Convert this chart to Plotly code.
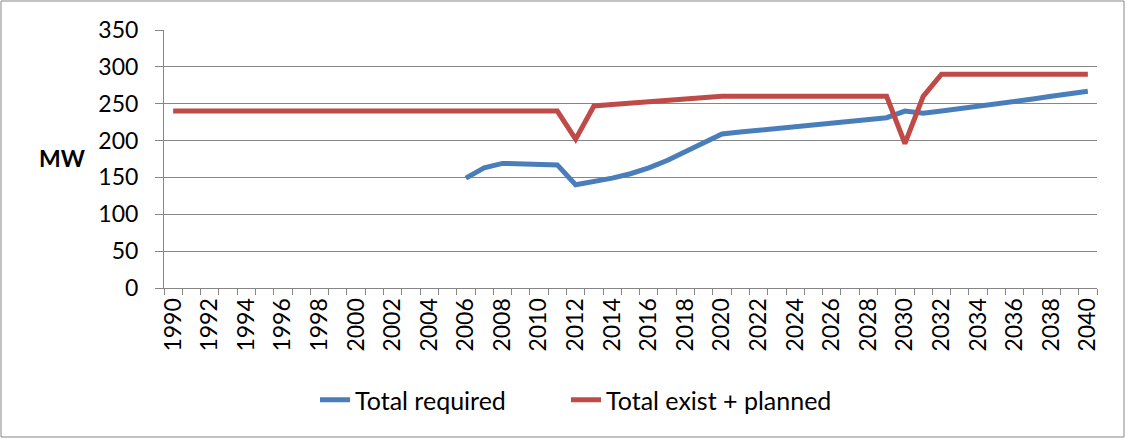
import plotly.graph_objects as go

years = list(range(1990, 2041))
total_required = [None] * 16 + [
    149, 163, 169, 168, 167.5, 167, 140, 144, 149, 155,
    163, 173, 185, 197, 209, 211.5, 214, 216.5, 219, 221.5,
    224, 226, 228.5, 231, 240, 237, 240, 243, 246.5, 250,
    253, 256.5, 260, 263.5, 267]
total_exist_planned = [240] * 22 + [
    202, 247, 249, 251, 253, 255, 257, 259,
    260, 260, 260, 260, 260, 260, 260, 260, 260, 260,
    196, 260,
    290, 290, 290, 290, 290, 290, 290, 290, 290]
tick_years = list(range(1990, 2041, 2))
y_ticks = list(range(0, 351, 50))

W, H = 1126, 439
L, R, T, B = 164, 1097, 30, 288
pw, ph = R - L, B - T

def px(x):
    return (x - L) / pw

def py(y):
    return (B - y) / ph

font_family = "Lato, 'Open Sans', sans-serif"
grey = "#868686"

fig = go.Figure()
fig.add_trace(go.Scatter(x=years, y=total_required, mode="lines", name="Total required",
                         line=dict(color="#4A7EBB", width=5), connectgaps=False,
                         legend="legend"))
fig.add_trace(go.Scatter(x=years, y=total_exist_planned, mode="lines", name="Total exist + planned",
                         line=dict(color="#BE4B48", width=5), legend="legend2"))

legend_common = dict(orientation="h", xanchor="left", y=py(400), yanchor="middle",
                     font=dict(size=25), bgcolor="rgba(0,0,0,0)")

fig.update_layout(
    width=W, height=H,
    margin=dict(l=L, r=W - R, t=T, b=H - B, pad=0),
    paper_bgcolor="white", plot_bgcolor="white",
    font=dict(family=font_family, size=23, color="black"),
    showlegend=True,
    legend=dict(x=px(315), **legend_common),
    legend2=dict(x=px(566), **legend_common),
    xaxis=dict(
        range=[1989.5, 2040.5], tickmode="array", tickvals=tick_years,
        ticktext=[str(y) for y in tick_years], tickangle=-90,
        ticks="", showgrid=False, showline=True, linecolor=grey, linewidth=1,
        zeroline=False, tickfont=dict(size=23),
        minor=dict(tickmode="linear", tick0=1989.5, dtick=1, ticks="outside",
                   ticklen=6, tickcolor=grey, showgrid=False),
    ),
    yaxis=dict(
        range=[0, 350], tickmode="array", tickvals=y_ticks,
        ticks="outside", ticklen=8, tickcolor=grey,
        showgrid=True, gridcolor=grey, gridwidth=1,
        showline=True, linecolor=grey, linewidth=1, zeroline=False,
        tickfont=dict(size=23), ticklabelstandoff=12,
    ),
    annotations=[dict(text="<b>MW</b>", xref="paper", yref="paper",
                      x=px(62), y=py(158), xanchor="center", yanchor="middle",
                      showarrow=False, font=dict(size=23))],
    shapes=[dict(type="rect", xref="paper", yref="paper",
                 x0=px(1), x1=px(1124), y0=py(437), y1=py(1),
                 line=dict(color=grey, width=1), fillcolor="rgba(0,0,0,0)", layer="below")],
)

fig.write_html("out.html")
